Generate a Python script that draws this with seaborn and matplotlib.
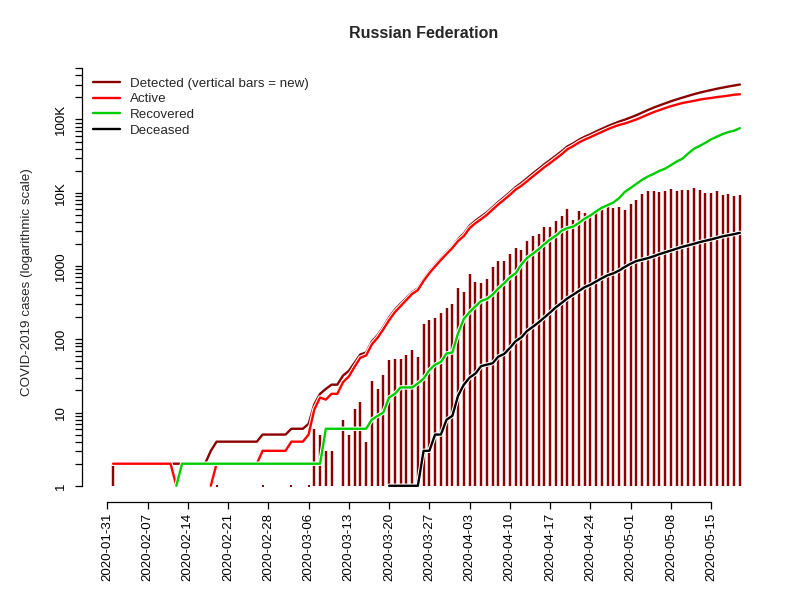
## COVID-19 cases, Russian Federation (log scale), R base-graphics look

import numpy as np
import pandas as pd
import seaborn as sns
import matplotlib
matplotlib.use("Agg")
import matplotlib.pyplot as plt
import matplotlib.dates as mdates
import matplotlib.patheffects as pe
from matplotlib.lines import Line2D
from matplotlib.ticker import FixedLocator, FixedFormatter, NullFormatter

###################################################################################################

## data, one value per day from 2020-02-01 to 2020-05-20

first_day = "2020-02-01"
last_day = "2020-05-20"

detected = [
    2, 2, 2, 2, 2, 2, 2, 2, 2, 2,
    2, 2, 2, 2, 2, 2, 2, 3, 4, 4,
    4, 4, 4, 4, 4, 4, 5, 5, 5, 5,
    5, 6, 6, 6, 7, 13, 18, 21, 24, 24,
    32, 37, 48, 62, 66, 93, 114, 147, 199, 253,
    306, 367, 438, 495, 658, 840, 1036, 1264, 1534, 1836,
    2337, 2777, 3548, 4149, 4731, 5389, 6343, 7497, 8672, 10131,
    11917, 13584, 15770, 18328, 21102, 24490, 27938, 32008, 36793, 42853,
    47121, 52763, 57999, 62773, 68622, 74588, 80949, 87147, 93558, 99399,
    106498, 114431, 124054, 134687, 145268, 155370, 165929, 177160, 187859, 198676,
    209688, 221344, 232243, 242271, 252245, 262843, 272043, 281752, 290678, 299941]

active = [
    2, 2, 2, 2, 2, 2, 2, 2, 2, 2,
    2, 1, 0, 0, 0, 0, 0, 1, 2, 2,
    2, 2, 2, 2, 2, 2, 3, 3, 3, 3,
    3, 4, 4, 4, 5, 11, 16, 15, 18, 18,
    26, 31, 42, 56, 60, 85, 105, 137, 182, 234,
    283, 344, 415, 469, 626, 799, 986, 1210, 1462, 1761,
    2199, 2563, 3283, 3834, 4355, 4989, 5890, 6945, 8029, 9357,
    11028, 12433, 14349, 16710, 19238, 22306, 25402, 29145, 33450, 39201,
    43270, 48434, 53066, 57327, 62439, 67657, 73435, 79007, 84235, 88141,
    93806, 100042, 107819, 116768, 125817, 134054, 143065, 151732, 159528, 167704,
    173467, 179534, 186615, 192056, 196410, 202199, 206340, 211748, 217747, 220974]

recovered = [
    0, 0, 0, 0, 0, 0, 0, 0, 0, 0,
    0, 1, 2, 2, 2, 2, 2, 2, 2, 2,
    2, 2, 2, 2, 2, 2, 2, 2, 2, 2,
    2, 2, 2, 2, 2, 2, 2, 6, 6, 6,
    6, 6, 6, 6, 6, 8, 9, 10, 16, 18,
    22, 22, 22, 25, 29, 38, 45, 49, 64, 66,
    121, 190, 235, 281, 333, 355, 406, 494, 580, 698,
    795, 1045, 1291, 1470, 1694, 1986, 2304, 2590, 3030, 3291,
    3446, 3873, 4420, 4891, 5568, 6250, 6767, 7346, 8456, 10286,
    11619, 13220, 15013, 16639, 18095, 19865, 21327, 23803, 26608, 29145,
    34306, 39801, 43512, 48003, 53530, 58226, 63166, 67373, 70209, 76130]

deceased = [
    0, 0, 0, 0, 0, 0, 0, 0, 0, 0,
    0, 0, 0, 0, 0, 0, 0, 0, 0, 0,
    0, 0, 0, 0, 0, 0, 0, 0, 0, 0,
    0, 0, 0, 0, 0, 0, 0, 0, 0, 0,
    0, 0, 0, 0, 0, 0, 0, 0, 1, 1,
    1, 1, 1, 1, 3, 3, 5, 5, 8, 9,
    17, 24, 30, 34, 43, 45, 47, 58, 63, 76,
    94, 106, 130, 148, 170, 198, 232, 273, 313, 361,
    405, 456, 513, 555, 615, 681, 747, 794, 867, 972,
    1073, 1169, 1222, 1280, 1356, 1451, 1537, 1625, 1723, 1827,
    1915, 2009, 2116, 2212, 2305, 2418, 2537, 2631, 2722, 2837]

new_cases = [
    2, 0, 0, 0, 0, 0, 0, 0, 0, 0,
    0, 0, 0, 0, 0, 0, 0, 1, 1, 0,
    0, 0, 0, 0, 0, 0, 1, 0, 0, 0,
    0, 1, 0, 0, 1, 6, 5, 3, 3, 0,
    8, 5, 11, 14, 4, 27, 21, 33, 52, 54,
    53, 61, 71, 57, 163, 182, 196, 228, 270, 302,
    501, 440, 771, 601, 582, 658, 954, 1154, 1175, 1459,
    1786, 1667, 2186, 2558, 2774, 3388, 3448, 4070, 4785, 6060,
    4268, 5642, 5236, 4774, 5849, 5966, 6361, 6198, 6411, 5841,
    7099, 7933, 9623, 10633, 10581, 10102, 10559, 11231, 10699, 10817,
    11012, 11656, 10899, 10028, 9974, 10598, 9200, 9709, 8926, 9263]

series_labels = ["Detected (vertical bars = new)", "Active", "Recovered", "Deceased"]
series_colors = ["#8B0000", "#FF0000", "#00CD00", "#000000"]

ytick_values = [1, 10, 100, 1000, 10000, 100000]
ytick_labels = ["1", "10", "100", "1000", "10K", "100K"]

###################################################################################################

FS = 9.6

sns.set_theme(style="ticks")
plt.rcParams["font.family"] = ["Liberation Sans", "DejaVu Sans"]
plt.rcParams["font.size"] = FS

dates = pd.date_range(first_day, last_day)
tick_dates = pd.date_range("2020-01-31", "2020-05-15", freq="7D")

fig = plt.figure(figsize=(8, 6), dpi=100)
ax = fig.add_axes([0.1025, 0.1633, 0.854, 0.725])
ax.set_facecolor("white")
ax.set_yscale("log")

## vertical bars = new cases (a single new case shows as a dot at the base)
new_arr = np.asarray(new_cases, float)
has_new = new_arr > 0
ax.vlines(dates[has_new], 1, new_arr[has_new], color=series_colors[0], lw=1.75,
          capstyle="butt", zorder=1)
single = new_arr == 1
ax.plot(dates[single], new_arr[single], ls="none", marker="s", ms=1.6,
        mew=0, color=series_colors[0], zorder=1)

## lines, zero values leave a gap (log scale)
halo = [pe.Stroke(linewidth=3.2, foreground="white"), pe.Normal()]
for values, color in zip([detected, active, recovered, deceased], series_colors):
    v = np.asarray(values, float)
    seg = np.cumsum(v <= 0)
    df = pd.DataFrame({"date": dates, "n": v, "seg": seg})[v > 0]
    sns.lineplot(data=df, x="date", y="n", units="seg", estimator=None, color=color,
                 lw=1.7, ax=ax, legend=False, path_effects=halo, zorder=2)

## axes in the style of R base graphics
x_left = pd.Timestamp("2020-01-31") - pd.Timedelta(days=4.4)
x_right = pd.Timestamp(last_day) + pd.Timedelta(days=4.4)
ax.set_xlim(x_left, x_right)
ax.set_ylim(0.6, 5.2e5)

ax.set_xticks(tick_dates)
ax.xaxis.set_major_formatter(mdates.DateFormatter("%Y-%m-%d"))
ax.yaxis.set_major_locator(FixedLocator(ytick_values))
ax.yaxis.set_major_formatter(FixedFormatter(ytick_labels))
minor_y = [m * 10 ** e for e in range(0, 6) for m in range(2, 10) if m * 10 ** e <= 5e5]
ax.yaxis.set_minor_locator(FixedLocator(minor_y))
ax.yaxis.set_minor_formatter(NullFormatter())
ax.xaxis.set_minor_locator(FixedLocator([]))

for side in ["top", "right"]:
    ax.spines[side].set_visible(False)
for side in ["left", "bottom"]:
    ax.spines[side].set_color("black")
    ax.spines[side].set_linewidth(0.9)
ax.spines["left"].set_bounds(1, 5e5)
ax.spines["bottom"].set_bounds(mdates.date2num(tick_dates[0]), mdates.date2num(tick_dates[-1]))

ax.tick_params(axis="both", which="both", direction="out", length=5.2, width=0.9,
               color="black", labelcolor="black", labelsize=FS)
ax.tick_params(axis="x", labelrotation=90, pad=2.5)
ax.tick_params(axis="y", labelrotation=90, pad=5.5)
for lab in ax.get_yticklabels():
    lab.set_va("center")
ax.set_xlabel("")
ax.set_ylabel("")
ax.grid(False)

fig.text(0.034, 0.53, "COVID-2019 cases (logarithmic scale)", rotation=90,
         ha="center", va="center", fontsize=FS)
fig.text(0.53, 1 - 33 / 600, "Russian Federation", ha="center", va="center",
         fontsize=11.5, fontweight="bold")

handles = [Line2D([], [], color=c, lw=1.7) for c in series_colors]
fig.legend(handles, series_labels, loc="upper left", bbox_to_anchor=(0.116, 0.871),
           frameon=False, borderpad=0, borderaxespad=0, handlelength=2.05,
           handletextpad=0.75, labelspacing=0.25, fontsize=FS)

fig.savefig("out.png", dpi=100, facecolor="white")
